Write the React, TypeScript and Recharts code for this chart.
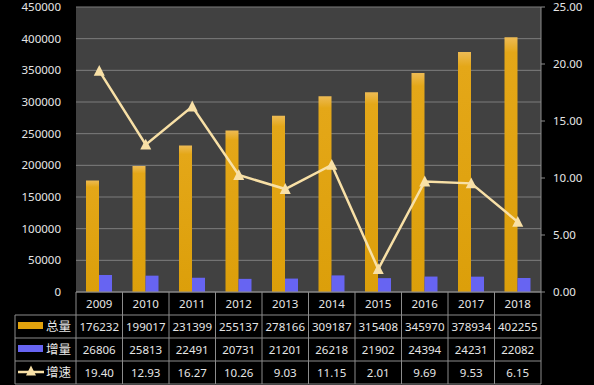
import { Bar, CartesianGrid, ComposedChart, Line, XAxis, YAxis } from "recharts";

const years = ["2009", "2010", "2011", "2012", "2013", "2014", "2015", "2016", "2017", "2018"];
const totals = [176232, 199017, 231399, 255137, 278166, 309187, 315408, 345970, 378934, 402255];
const increments = [26806, 25813, 22491, 20731, 21201, 26218, 21902, 24394, 24231, 22082];
const growth = [19.4, 12.93, 16.27, 10.26, 9.03, 11.15, 2.01, 9.69, 9.53, 6.15];
const leftTicks = [0, 50000, 100000, 150000, 200000, 250000, 300000, 350000, 400000, 450000];
const rightTicks = [0, 5, 10, 15, 20, 25];

const W = 594;
const H = 385;
const LEFT_W = 76;
const RIGHT_W = 53;
const COL_W = (W - LEFT_W - RIGHT_W) / years.length;
const ROW_H = 23;
const LINE = "#f8e0a6";
const GOLD = "#e1a20d";
const BLUE = "#6764f2";
const TXT = "#e6e6e6";
const RULE = "#8c8c8c";
const FONT = '"Noto Sans", "Noto Sans CJK SC", sans-serif';

const data = years.map((y, i) => ({
  year: y,
  total: totals[i],
  inc: increments[i],
  rate: growth[i],
}));

function Triangle({ cx, cy, size = 11, color = LINE }: any) {
  if (cx == null || cy == null) return null;
  const h = size * 0.9;
  return (
    <polygon
      points={`${cx},${cy - h / 2 - 1} ${cx - size / 2},${cy + h / 2} ${cx + size / 2},${cy + h / 2}`}
      fill={color}
    />
  );
}

function TableTick(props: any) {
  const { x, y, payload } = props;
  const i = years.indexOf(payload.value);
  const left = x - COL_W / 2;
  const right = x + COL_W / 2;
  const rows = [years[i], String(totals[i]), String(increments[i]), growth[i].toFixed(2)];
  return (
    <g>
      <line x1={left} x2={left} y1={y} y2={y + 4 * ROW_H} stroke={RULE} />
      {i === years.length - 1 && <line x1={right} x2={right} y1={y} y2={y + 4 * ROW_H} stroke={RULE} />}
      {[1, 2, 3, 4].map((r) => (
        <line key={r} x1={left} x2={right} y1={y + r * ROW_H} y2={y + r * ROW_H} stroke={RULE} />
      ))}
      {rows.map((t, r) => (
        <text
          key={r}
          x={x}
          y={y + r * ROW_H + ROW_H / 2}
          dy="0.36em"
          textAnchor="middle"
          fill={TXT}
          fontSize={11.5}
          fontFamily={FONT}
        >
          {t}
        </text>
      ))}
      {i === 0 && (
        <g>
          <line x1={15} x2={15} y1={y + ROW_H} y2={y + 4 * ROW_H} stroke={RULE} />
          {[1, 2, 3, 4].map((r) => (
            <line key={r} x1={15} x2={left} y1={y + r * ROW_H} y2={y + r * ROW_H} stroke={RULE} />
          ))}
          <rect x={18} y={y + ROW_H + 7} width={25} height={7} fill={GOLD} />
          <rect x={18} y={y + 2 * ROW_H + 7} width={25} height={7} fill={BLUE} />
          <line x1={18} x2={44} y1={y + 3 * ROW_H + 11} y2={y + 3 * ROW_H + 11} stroke={LINE} strokeWidth={2.5} />
          <Triangle cx={31} cy={y + 3 * ROW_H + 10} size={10} />
          {["总量", "增量", "增速"].map((t, r) => (
            <text
              key={t}
              x={46}
              y={y + (r + 1) * ROW_H + ROW_H / 2}
              dy="0.36em"
              fill={TXT}
              fontSize={12.5}
              fontFamily={FONT}
            >
              {t}
            </text>
          ))}
        </g>
      )}
    </g>
  );
}

export default function App() {
  return (
    <div style={{ position: "absolute", left: 0, top: 0, width: W, height: H, background: "#000" }}>
      <ComposedChart
        width={W}
        height={H}
        data={data}
        margin={{ top: 7, right: 0, bottom: 0, left: 0 }}
        barGap={0}
      >
        <defs>
          <linearGradient id="gold" x1="0" y1="0" x2="0" y2="1">
            <stop offset="0%" stopColor="#edbb55" />
            <stop offset="6%" stopColor="#e4a718" />
            <stop offset="100%" stopColor="#dc9f0a" />
          </linearGradient>
        </defs>
        <CartesianGrid
          yAxisId="left"
          vertical={false}
          stroke="#7d7d7d"
          fill="#414141"
          fillOpacity={1}
        />
        <XAxis
          dataKey="year"
          height={H - 7 - 285}
          interval={0}
          tickSize={0}
          tickMargin={0}
          tickLine={false}
          axisLine={{ stroke: RULE }}
          tick={<TableTick />}
        />
        <YAxis
          yAxisId="left"
          width={LEFT_W}
          domain={[0, 450000]}
          ticks={leftTicks}
          axisLine={false}
          tickLine={false}
          tickSize={0}
          tickMargin={15}
          tick={{ fill: TXT, fontSize: 11.5, fontFamily: FONT }}
        />
        <YAxis
          yAxisId="right"
          orientation="right"
          width={RIGHT_W}
          domain={[0, 25]}
          ticks={rightTicks}
          axisLine={{ stroke: RULE }}
          tickLine={{ stroke: RULE }}
          tickSize={4}
          tickMargin={8}
          tickFormatter={(v) => Number(v).toFixed(2)}
          tick={{ fill: TXT, fontSize: 11.5, fontFamily: FONT, textAnchor: "start" }}
        />
        <Bar yAxisId="left" dataKey="total" barSize={13} fill="url(#gold)" isAnimationActive={false} />
        <Bar yAxisId="left" dataKey="inc" barSize={13} fill={BLUE} isAnimationActive={false} />
        <Line
          yAxisId="right"
          dataKey="rate"
          type="linear"
          stroke={LINE}
          strokeWidth={2.5}
          dot={(p: any) => <Triangle key={p.index} cx={p.cx} cy={p.cy} />}
          activeDot={false}
          isAnimationActive={false}
        />
      </ComposedChart>
    </div>
  );
}
